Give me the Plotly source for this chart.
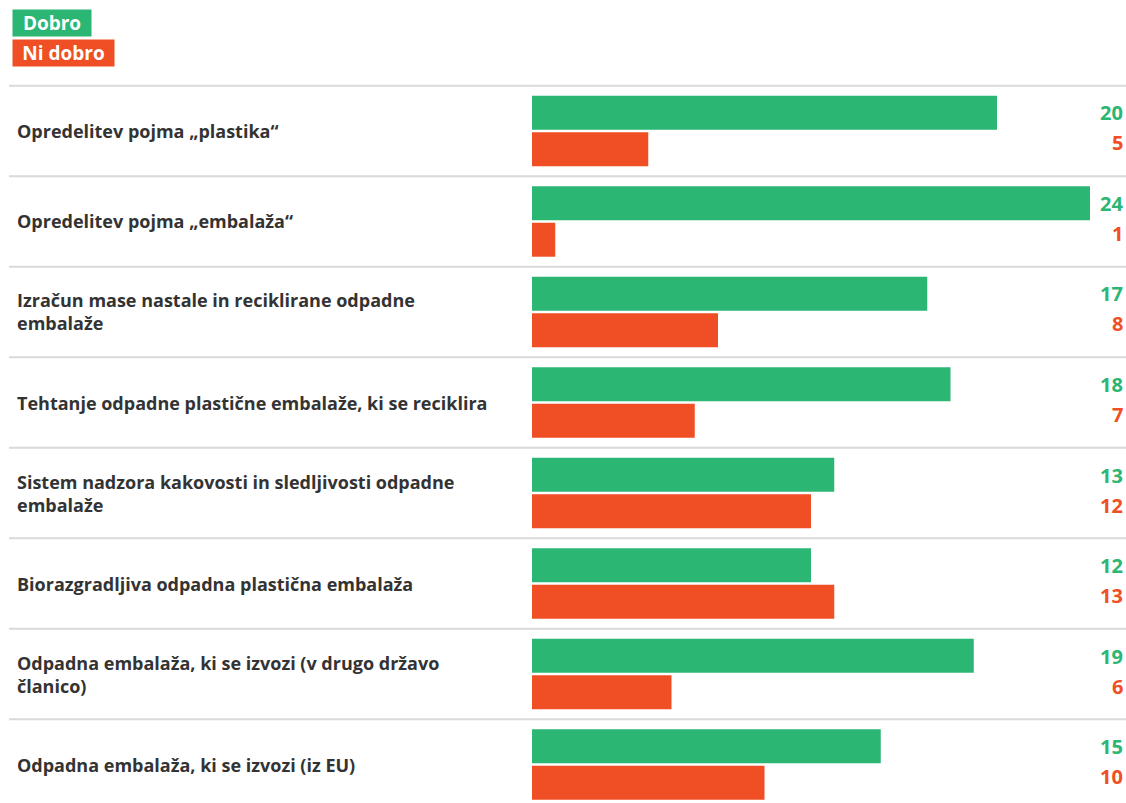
import plotly.graph_objects as go

categories = [
    "Opredelitev pojma „plastika“",
    "Opredelitev pojma „embalaža“",
    "Izračun mase nastale in reciklirane odpadne<br>embalaže",
    "Tehtanje odpadne plastične embalaže, ki se reciklira",
    "Sistem nadzora kakovosti in sledljivosti odpadne<br>embalaže",
    "Biorazgradljiva odpadna plastična embalaža",
    "Odpadna embalaža, ki se izvozi (v drugo državo<br>članico)",
    "Odpadna embalaža, ki se izvozi (iz EU)",
]
dobro = [20, 24, 17, 18, 13, 12, 19, 15]
ni_dobro = [5, 1, 8, 7, 12, 13, 6, 10]
series_names = ["Dobro", "Ni dobro"]

GREEN = "#2BB673"
RED = "#F04E25"
TEXT = "#333333"
FONT = "Open Sans"

W, H = 1126, 803
ML, MR = 532, 36
plot_w = W - ML - MR

pos = list(range(len(categories)))

fig = go.Figure()
fig.add_trace(go.Bar(y=pos, x=dobro, orientation="h", name=series_names[0],
                     marker=dict(color=GREEN, line=dict(width=0)), hoverinfo="x"))
fig.add_trace(go.Bar(y=pos, x=ni_dobro, orientation="h", name=series_names[1],
                     marker=dict(color=RED, line=dict(width=0)), hoverinfo="x"))

ann = []
shapes = []
xval = (W - 1 - ML) / plot_w
xlab = (15 - ML) / plot_w
xline0 = (9 - ML) / plot_w
xline1 = (W - ML) / plot_w
for i, cat in enumerate(categories):
    ann.append(dict(x=xlab, xref="paper", y=i, yref="y", text=cat, showarrow=False,
                    xanchor="left", yanchor="middle", align="left",
                    font=dict(family=FONT, size=18, color=TEXT, weight=700)))
    ann.append(dict(x=xval, xref="paper", y=i, yref="y", text=str(dobro[i]), showarrow=False,
                    xanchor="right", yanchor="middle", yshift=18,
                    font=dict(family=FONT, size=20, color=GREEN, weight=700)))
    ann.append(dict(x=xval, xref="paper", y=i, yref="y", text=str(ni_dobro[i]), showarrow=False,
                    xanchor="right", yanchor="middle", yshift=-12,
                    font=dict(family=FONT, size=20, color=RED, weight=700)))
    shapes.append(dict(type="line", xref="paper", yref="y", x0=xline0, x1=xline1,
                       y0=i - 0.5, y1=i - 0.5, line=dict(color="#d9d9d9", width=2)))

# legend boxes
ann.append(dict(x=(12 - ML) / plot_w, xref="paper", y=1 + (84 - 23) / (H - 84), yref="paper",
                text="Dobro", showarrow=False, xanchor="left", yanchor="middle",
                bgcolor=GREEN, width=74, height=22, align="center", borderpad=2,
                font=dict(family=FONT, size=19, color="white", weight=700)))
ann.append(dict(x=(12 - ML) / plot_w, xref="paper", y=1 + (84 - 53) / (H - 84), yref="paper",
                text="Ni dobro", showarrow=False, xanchor="left", yanchor="middle",
                bgcolor=RED, width=97, height=22, align="center", borderpad=2,
                font=dict(family=FONT, size=19, color="white", weight=700)))

fig.update_layout(
    width=W, height=H,
    margin=dict(l=ML, r=MR, t=84, b=0),
    paper_bgcolor="white", plot_bgcolor="white",
    barmode="group", bargap=0.193, bargroupgap=0.07,
    showlegend=False,
    xaxis=dict(range=[0, 24], visible=False, fixedrange=True),
    yaxis=dict(range=[7.425, -0.519], visible=False, fixedrange=True),
    annotations=ann, shapes=shapes,
)

fig.write_html("out.html", config={"displayModeBar": False},
               post_script="document.body.style.margin='0';document.body.style.overflow='hidden';")
